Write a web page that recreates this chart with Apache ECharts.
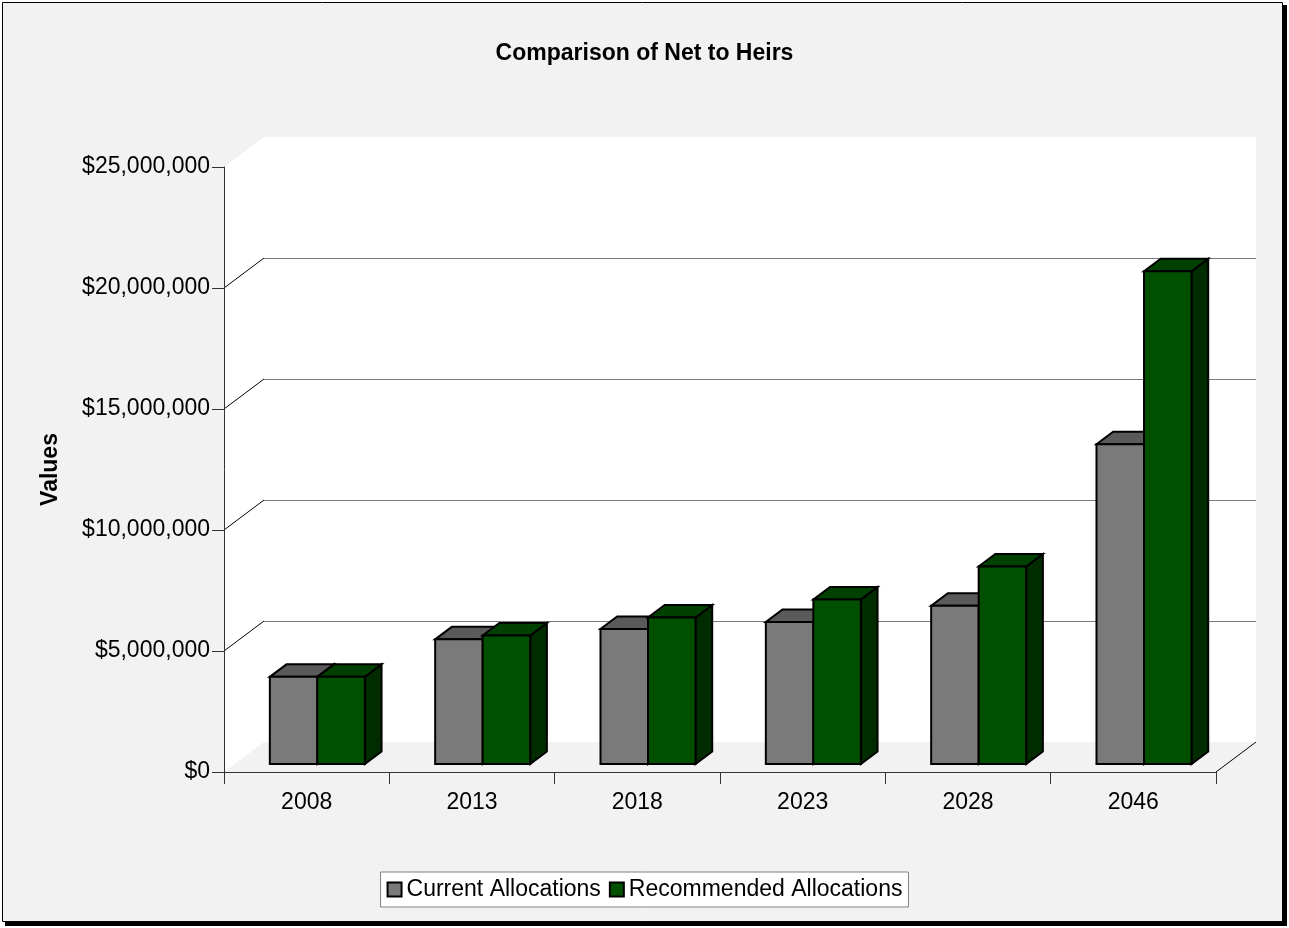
<!DOCTYPE html>
<html>
<head>
<meta charset="utf-8">
<script src="https://cdn.jsdelivr.net/npm/echarts@6/dist/echarts.min.js"></script>
<style>
html,body{margin:0;padding:0;background:#fff;}
#main{width:1289px;height:928px;}
</style>
</head>
<body>
<div id="main"></div>
<script>
// ---- data ----
const categories = ['2008', '2013', '2018', '2023', '2028', '2046'];
const currentAllocations = [3600000, 5150000, 5580000, 5870000, 6540000, 13210000];
const recommendedAllocations = [3600000, 5310000, 6050000, 6800000, 8160000, 20360000];
const yTicks = [0, 5000000, 10000000, 15000000, 20000000, 25000000];
const seriesNames = ['Current Allocations', 'Recommended Allocations'];

const FONT = '"Liberation Sans", Arial, sans-serif';
const FS = 23;
const DX = 40, DY = -30;           // wall depth offset
const F0 = 0.267, FD = 0.417;      // bar front offset / bar depth (fractions of wall depth)
const BAR_FRAC = 0.2874;           // bar width as fraction of category width

const barColors = [
  {front: '#7a7a7a', top: '#5a5a5a', side: '#4a4a4a'},
  {front: '#005000', top: '#004000', side: '#002c00'}
];

const chart = echarts.init(document.getElementById('main'), null, {renderer: 'canvas'});

function px(v) { return Math.round(v) + 0.5; }

function wallRender(params, api) {
  const cs = params.coordSys;
  const x0 = cs.x, x1 = cs.x + cs.width;
  const yTop = api.coord([0, yTicks[yTicks.length - 1]])[1];
  const yBot = api.coord([0, yTicks[0]])[1];
  const children = [];
  children.push({
    type: 'polygon',
    shape: {points: [[x0, yBot], [x0, yTop], [x0 + DX, yTop + DY], [x1 + DX, yTop + DY], [x1 + DX, yBot + DY], [x0 + DX, yBot + DY]]},
    style: {fill: '#ffffff', stroke: null}
  });
  for (let i = 1; i < yTicks.length - 1; i++) {
    const y = api.coord([0, yTicks[i]])[1];
    const yb = px(y + DY);
    children.push({type: 'line', shape: {x1: x0 + DX, y1: yb, x2: x1 + DX, y2: yb},
      style: {stroke: '#7a7a7a', lineWidth: 1}});
    children.push({type: 'line', shape: {x1: x0, y1: y, x2: x0 + DX, y2: y + DY},
      style: {stroke: '#000', lineWidth: 1}});
  }
  children.push({type: 'line', shape: {x1: x1, y1: yBot, x2: x1 + DX, y2: yBot + DY},
    style: {stroke: '#000', lineWidth: 1}});
  return {type: 'group', children: children};
}

function makeBarRender(k) {
  return function (params, api) {
    const idx = api.value(0);
    const catW = api.size([1, 0])[0];
    const base = api.coord([idx, 0]);
    const topP = api.coord([idx, api.value(1)]);
    const bw = catW * BAR_FRAC;
    const ox = DX * F0, oy = DY * F0;
    const dx = DX * FD, dy = DY * FD;
    const x0 = base[0] + ox + (k === 0 ? -bw : 0);
    const x1 = x0 + bw;
    const yb = base[1] + oy;
    const yt = topP[1] + oy;
    const c = barColors[k];
    const st = {stroke: '#000', lineWidth: 2, lineJoin: 'miter'};
    return {
      type: 'group',
      children: [
        {type: 'polygon', shape: {points: [[x1, yt], [x1 + dx, yt + dy], [x1 + dx, yb + dy], [x1, yb]]},
          style: Object.assign({fill: c.side}, st)},
        {type: 'polygon', shape: {points: [[x0, yt], [x1, yt], [x1 + dx, yt + dy], [x0 + dx, yt + dy]]},
          style: Object.assign({fill: c.top}, st)},
        {type: 'rect', shape: {x: x0, y: yt, width: bw, height: yb - yt},
          style: Object.assign({fill: c.front}, st)}
      ]
    };
  };
}

const option = {
  animation: false,
  backgroundColor: '#ffffff',
  textStyle: {fontFamily: FONT},
  graphic: [
    {type: 'rect', z: -10, shape: {x: 5, y: 5, width: 1282, height: 921}, style: {fill: '#000'}},
    {type: 'rect', z: -9, shape: {x: 2.5, y: 2.5, width: 1280, height: 919}, style: {fill: '#f2f2f2', stroke: '#000', lineWidth: 1}}
  ],
  title: {
    text: 'Comparison of Net to Heirs',
    left: 'center',
    top: 37,
    textStyle: {fontFamily: FONT, fontSize: FS, fontWeight: 'bold', color: '#000'}
  },
  legend: {
    data: seriesNames.map((n, i) => ({name: n, icon: 'rect',
      itemStyle: {color: barColors[i].front, borderColor: '#000', borderWidth: 2}})),
    left: 'center',
    top: 872,
    itemWidth: 14,
    itemHeight: 14,
    itemGap: 8,
    padding: [6, 6, 6, 6],
    backgroundColor: '#ffffff',
    borderColor: '#808080',
    borderWidth: 1,
    borderRadius: 0,
    textStyle: {fontFamily: FONT, fontSize: FS, color: '#000'}
  },
  grid: {left: 224, top: 167, width: 992, height: 605, containLabel: false},
  xAxis: {
    type: 'category',
    data: categories,
    z: 5,
    axisLine: {show: true, lineStyle: {color: '#333', width: 1}},
    axisTick: {show: true, length: 12, interval: 0, lineStyle: {color: '#333'}},
    axisLabel: {fontFamily: FONT, fontSize: FS, color: '#000', margin: 19},
    splitLine: {show: false}
  },
  yAxis: {
    type: 'value',
    min: yTicks[0],
    max: yTicks[yTicks.length - 1],
    interval: yTicks[1] - yTicks[0],
    z: 5,
    name: 'Values',
    nameLocation: 'middle',
    nameRotate: 90,
    nameGap: 162,
    nameTextStyle: {fontFamily: FONT, fontSize: FS, fontWeight: 'bold', color: '#000'},
    axisLine: {show: true, lineStyle: {color: '#333', width: 1}},
    axisTick: {show: true, length: 12, lineStyle: {color: '#333'}},
    axisLabel: {fontFamily: FONT, fontSize: FS, color: '#000', margin: 14,
      formatter: v => '$' + v.toLocaleString('en-US')},
    splitLine: {show: false}
  },
  series: [
    {type: 'custom', name: '_walls', z: 1, silent: true, renderItem: wallRender, data: [[0, 0]], clip: false},
    {type: 'custom', name: seriesNames[0], z: 2, renderItem: makeBarRender(0), clip: false,
      itemStyle: {color: barColors[0].front},
      encode: {x: 0, y: 1},
      data: currentAllocations.map((v, i) => [i, v])},
    {type: 'custom', name: seriesNames[1], z: 2, renderItem: makeBarRender(1), clip: false,
      itemStyle: {color: barColors[1].front},
      encode: {x: 0, y: 1},
      data: recommendedAllocations.map((v, i) => [i, v])}
  ]
};
chart.setOption(option);
</script>
</body>
</html>
